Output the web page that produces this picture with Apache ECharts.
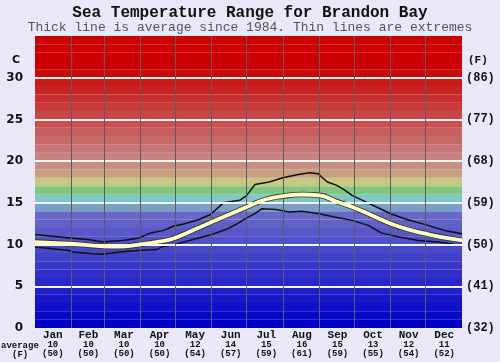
<!DOCTYPE html>
<html>
<head>
<meta charset="utf-8">
<script src="https://cdn.jsdelivr.net/npm/echarts@6/dist/echarts.min.js"></script>
<style>
  html, body { margin: 0; padding: 0; background: #e8e8f8; }
  #box1 { width: 500px; height: 362px; }
</style>
</head>
<body>
<div id="box1"></div>
<script>
// month labels + monthly average under each month
var months = ['Jan', 'Feb', 'Mar', 'Apr', 'May', 'Jun', 'Jul', 'Aug', 'Sep', 'Oct', 'Nov', 'Dec']
var monthAvgC = [10, 10, 10, 10, 12, 14, 15, 16, 15, 13, 12, 11]
var monthAvgF = [50, 50, 50, 50, 54, 57, 59, 61, 59, 55, 54, 52]
var monthEnds = [31, 59, 90, 120, 151, 181, 212, 243, 273, 304, 334]

// tick labels
var cTicks = [0, 5, 10, 15, 20, 25, 30]
var fTicks = ['(32)', '(41)', '(50)', '(59)', '(68)', '(77)', '(86)']

// average (thick line), day of year / deg C
var avgDays = [0, 29, 58, 72, 89, 104, 115, 125, 138, 151, 166, 181, 197, 212, 228, 243, 257, 275, 291, 306, 322, 337, 351, 365]
var avgTemp = [10.3, 10.1, 9.8, 9.75, 10.0, 10.3, 10.6, 11.1, 11.9, 12.7, 13.6, 14.5, 15.4, 15.8, 16.0, 15.9, 15.2, 14.3, 13.3, 12.4, 11.7, 11.2, 10.8, 10.5]

// warmest on record
var maxDays = [0, 15, 30, 45, 58, 65, 75, 89, 99, 110, 118, 128, 140, 150, 161, 175, 181, 188, 200, 212, 225, 235, 242, 245, 250, 258, 265, 271, 280, 292, 304, 318, 336, 350, 365]
var maxTemp = [11.2, 11.0, 10.8, 10.6, 10.3, 10.4, 10.5, 10.8, 11.4, 11.7, 12.2, 12.5, 13.0, 13.6, 15.0, 15.3, 15.9, 17.2, 17.5, 18.0, 18.4, 18.6, 18.5, 18.1, 17.5, 17.1, 16.5, 15.9, 15.3, 14.5, 13.7, 13.0, 12.3, 11.7, 11.3]

// coldest on record
var minDays = [0, 15, 29, 32, 50, 58, 72, 89, 104, 108, 120, 135, 151, 163, 173, 181, 188, 194, 206, 217, 228, 243, 256, 271, 285, 296, 311, 328, 345, 365]
var minTemp = [9.7, 9.5, 9.3, 9.1, 8.9, 8.85, 9.1, 9.3, 9.4, 9.7, 10.0, 10.6, 11.2, 11.8, 12.5, 13.2, 13.7, 14.3, 14.2, 13.9, 14.0, 13.7, 13.3, 12.9, 12.3, 11.4, 10.9, 10.5, 10.3, 9.9]

function pairs(xs, ys) {
    return xs.map(function (x, i) { return [x, ys[i]] })
}

// one colour band per degree
function bandColor(t) {
    var special = {
        14: '#78a0c8', 15: '#80c8c8', 16: '#80c880',
        17: '#c8c880', 18: '#c8a080', 19: '#c89080'
    }
    if (special[t]) return special[t]
    if (t < 14) {
        var c = Math.round(t * 8)
        return 'rgb(' + c + ',' + c + ',200)'
    }
    if (t >= 31) return '#cc0000'
    var g = Math.max(0, Math.round(128 - (t - 20) * 11.6))
    return 'rgb(200,' + g + ',' + g + ')'
}

var bands = []
for (var t = 0; t < 35; t++) {
    bands.push([{ yAxis: t, itemStyle: { color: bandColor(t) } }, { yAxis: t + 1 }])
}

var guides = []
cTicks.slice(1).forEach(function (v) {
    guides.push({ yAxis: v, lineStyle: { color: '#f4f4f4', width: 2, type: 'solid' } })
})
monthEnds.forEach(function (d) {
    guides.push({ xAxis: d, lineStyle: { color: '#5c5c64', width: 1, type: 'solid' } })
})

var mono = 'Liberation Mono'

var first = echarts.init(document.getElementById('box1'))
var option = {
    backgroundColor: '#e8e8f8',
    animation: false,
    title: {
        text: 'Sea Temperature Range for Brandon Bay',
        subtext: 'Thick line is average since 1984. Thin lines are extremes',
        left: 'center',
        top: 0,
        itemGap: 0,
        textStyle: { fontFamily: mono, fontWeight: 'bold', fontSize: 16, color: '#111' },
        subtextStyle: { fontFamily: mono, fontSize: 13, color: '#555' }
    },
    grid: { left: 35, right: 38, top: 36, bottom: 34 },
    xAxis: [
        {
            type: 'value', min: 0, max: 365, show: false
        },
        {
            type: 'category', data: months, boundaryGap: true, position: 'bottom',
            axisLine: { show: false }, axisTick: { show: false }, splitLine: { show: false },
            axisLabel: {
                margin: 2,
                interval: 0,
                formatter: function (v, i) {
                    return '{m|' + v + '}\n{v|' + monthAvgC[i] + '}\n{f|(' + monthAvgF[i] + ')}'
                },
                rich: {
                    m: { fontFamily: mono, fontWeight: 'bold', fontSize: 11, lineHeight: 10, color: '#111' },
                    v: { fontFamily: mono, fontWeight: 'bold', fontSize: 9, lineHeight: 9, color: '#111' },
                    f: { fontFamily: mono, fontWeight: 'bold', fontSize: 9, lineHeight: 9, color: '#111' }
                }
            }
        }
    ],
    yAxis: [
        {
            type: 'value', min: 0, max: 35, interval: 5,
            axisLine: { show: false }, axisTick: { show: false }, splitLine: { show: false },
            axisLabel: {
                margin: 12,
                fontFamily: 'DejaVu Sans', fontWeight: 'bold', fontSize: 12, color: '#111',
                formatter: function (v) { return cTicks.indexOf(v) >= 0 ? String(v) : '' }
            }
        },
        {
            type: 'value', min: 0, max: 35, interval: 5, position: 'right',
            axisLine: { show: false }, axisTick: { show: false }, splitLine: { show: false },
            axisLabel: {
                margin: 4,
                fontFamily: mono, fontWeight: 'bold', fontSize: 12, color: '#111',
                formatter: function (v) {
                    var i = cTicks.indexOf(v)
                    return i >= 0 ? fTicks[i] : ''
                }
            }
        }
    ],
    graphic: [
        { type: 'text', left: 12, top: 55, style: { text: 'C', font: 'bold 11px "DejaVu Sans"', fill: '#111' } },
        { type: 'text', left: 468, top: 55, style: { text: '(F)', font: 'bold 11px "Liberation Mono"', fill: '#111' } },
        { type: 'text', left: 1, top: 341, style: { text: 'average', font: 'bold 9px "Liberation Mono"', fill: '#111' } },
        { type: 'text', left: 12, top: 350, style: { text: '(F)', font: 'bold 9px "Liberation Mono"', fill: '#111' } }
    ],
    series: [
        {
            name: 'bands',
            type: 'line',
            z: 1,
            silent: true,
            data: pairs(minDays, minTemp),
            showSymbol: false,
            lineStyle: { opacity: 0 },
            markArea: { silent: true, data: bands },
            markLine: { silent: true, symbol: 'none', label: { show: false }, data: guides }
        },
        {
            name: 'max',
            type: 'line',
            z: 3,
            data: pairs(maxDays, maxTemp),
            showSymbol: false,
            lineStyle: { color: '#111', width: 1.5 }
        },
        {
            name: 'min',
            type: 'line',
            z: 3,
            data: pairs(minDays, minTemp),
            showSymbol: false,
            lineStyle: { color: '#111', width: 1.5 }
        },
        {
            name: 'avg outline',
            type: 'line',
            z: 4,
            smooth: true,
            data: pairs(avgDays, avgTemp),
            showSymbol: false,
            lineStyle: { color: '#333', width: 5.5 }
        },
        {
            name: 'average',
            type: 'line',
            z: 5,
            smooth: true,
            data: pairs(avgDays, avgTemp),
            showSymbol: false,
            lineStyle: { color: '#ffffc0', width: 3.8 }
        }
    ]
}
first.setOption(option)
</script>
</body>
</html>
